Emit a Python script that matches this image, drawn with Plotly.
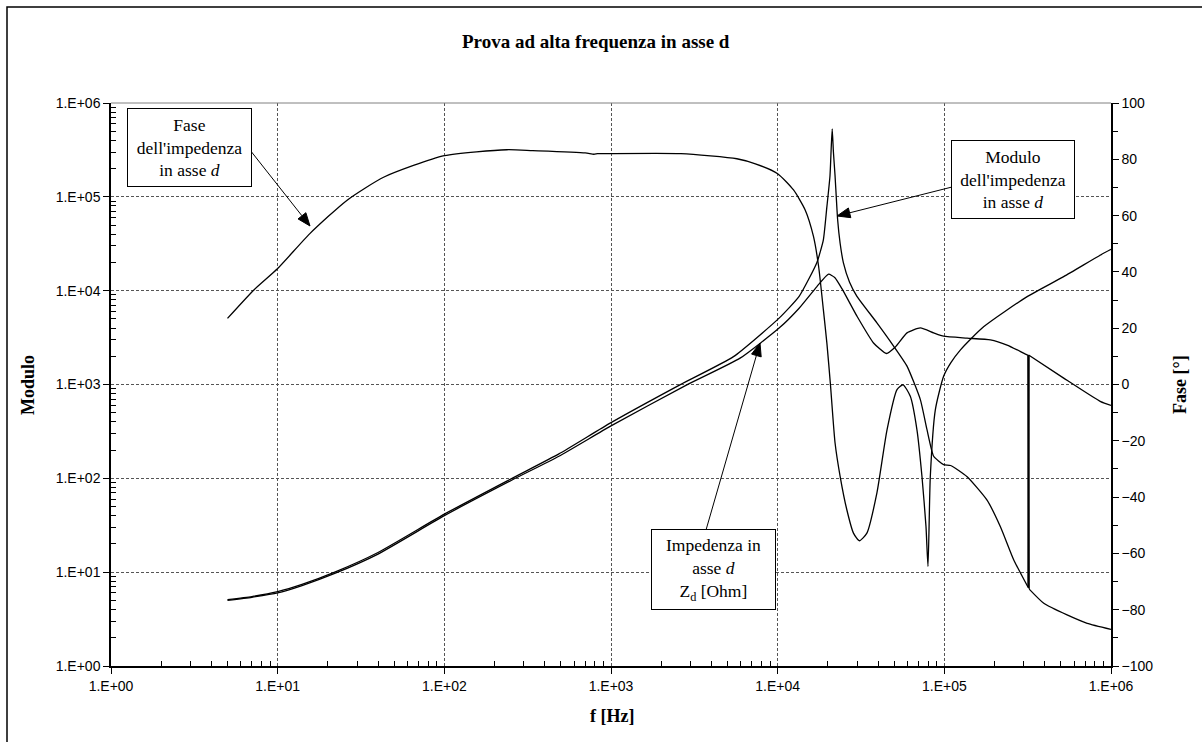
import math
import plotly.graph_objects as go

# ---------------- data ----------------
freq_mod = [5, 7, 10, 14, 22, 40, 100, 255, 487, 1000, 2590, 5430, 10200, 13450,
            17200, 18800, 19700, 20600, 20950, 21250, 21600, 22100, 22900, 23700, 24800,
            27000, 29900, 39400, 49600, 59700, 71800, 78700, 86300, 99000, 109000, 137000,
            180000, 217000, 261000, 318000, 320500, 323000, 395000, 545000, 720000,
            1000000]
modulo = [5.1, 5.5, 6.2, 7.4, 10.0, 16.2, 41.5, 100, 182, 392, 991, 1980, 5100, 8700,
          20000, 34800, 75700, 167000, 330000, 530000, 300000, 167000, 57000, 32000, 19800,
          12300, 8700, 4540, 2570, 1570, 690, 330, 172, 140, 137, 104,
          58.9, 30.5, 13.5, 6.9, 2070, 6.6, 4.66, 3.50, 2.85,
          2.46]

freq_zd = [5, 7, 10, 14, 22, 40, 100, 255, 487, 1000, 2850, 5950, 10200, 13450, 17200,
           20200, 22000, 24300, 29900, 37600, 44900, 50800, 59700, 71800, 86300, 99000,
           137000, 189000, 238000, 314000, 317000, 319500, 322000, 520000, 867000, 1000000]
zd = [5.0, 5.4, 6.0, 7.2, 9.7, 15.6, 40, 96, 172, 362, 991, 1910, 3990, 6500, 11060,
      15000, 13800, 10500, 5350, 2770, 2140, 2510, 3550, 4010, 3550, 3270,
      3120, 2990, 2630, 2070, 2060, 6.8, 2050, 1170, 657, 600]

freq_ph = [5, 7.2, 10, 15.6, 26, 43.5, 100, 237, 339, 700, 790, 830, 900, 2630, 5690,
           7350, 10000, 12450, 14600, 16400, 17600, 18800, 19750, 20700, 22100, 23700,
           26000, 28500, 30900, 34300, 39400, 45300, 52000, 56500, 62500, 68500, 73400,
           77600, 79800, 82400, 88300, 99000, 109000, 125000, 172000, 314000, 520000,
           865000, 1000000]
phase = [23.5, 33.6, 41.2, 53.6, 65.4, 73.7, 81.3, 83.4, 83.1, 82.3, 81.8, 82.0, 82.0,
         82.0, 80.2, 78.4, 74.9, 69.1, 62.1, 52.6, 42.0, 26.6, 14.5, 0.5, -20.8, -32.6,
         -44.5, -52.8, -55.5, -52.8, -38.5, -16.1, -1.8, -0.1, -4.2, -16.1, -32.6,
         -50.4, -64.6, -32.6, -9.0, 2.9, 7.6, 12.3, 20.5, 31.2, 38.3,
         46.0, 48.0]

log_ticks = [1, 10, 100, 1000, 10000, 100000, 1000000]
log_ticktext = ["1.E+00", "1.E+01", "1.E+02", "1.E+03", "1.E+04", "1.E+05", "1.E+06"]
log_minor = [m * 10 ** e for e in range(6) for m in range(2, 10)]
phase_ticks = list(range(-100, 101, 20))

title_text = "Prova ad alta frequenza in asse d"

# ---------------- layout geometry ----------------
W, H = 1202, 742
ML, MR, MT, MB = 111, 91, 103, 76
PW, PH = W - ML - MR, H - MT - MB


def px(x):
    return (x - ML) / PW


def py(y):
    return (H - MB - y) / PH


SERIF = "Times New Roman, Liberation Serif, serif"
SANS = "Arial, Liberation Sans, sans-serif"

fig = go.Figure()
smooth = dict(color="black", width=1.3, shape="spline", smoothing=0.5)
straight = dict(color="black", width=1.3)


def add_series(fx, fy, spike_idx, axis):
    # smooth curve, with the single-sample spike drawn as straight segments
    pieces = [(0, spike_idx, smooth), (spike_idx - 1, spike_idx + 2, straight),
              (spike_idx + 1, len(fx), smooth)]
    for a, b, ln in pieces:
        fig.add_trace(go.Scatter(x=fx[a:b], y=fy[a:b], mode="lines", line=ln,
                                 yaxis=axis, hoverinfo="x+y"))


add_series(freq_mod, modulo, freq_mod.index(320500), "y")
add_series(freq_zd, zd, freq_zd.index(319500), "y")
fig.add_trace(go.Scatter(x=freq_ph, y=phase, mode="lines",
                         line=dict(color="black", width=1.3, shape="spline", smoothing=0.6),
                         yaxis="y2"))

grid = dict(showgrid=True, gridcolor="#555555", gridwidth=1, griddash="3px,2px")
TF = dict(family=SANS, size=14, color="black")

fig.update_layout(
    width=W, height=H,
    margin=dict(l=ML, r=MR, t=MT, b=MB),
    paper_bgcolor="white", plot_bgcolor="white",
    showlegend=False,
    xaxis=dict(type="log", range=[0, 6], tickmode="array", tickvals=log_ticks,
               ticktext=log_ticktext, ticks="outside", ticklen=6, tickcolor="black",
               showline=True, linecolor="black", linewidth=1.5, zeroline=False,
               tickfont=TF,
               minor=dict(tickmode="array", tickvals=log_minor, ticks="inside",
                          ticklen=5, tickcolor="black", showgrid=False),
               **grid),
    yaxis=dict(type="log", range=[0, 6], tickmode="array", tickvals=log_ticks,
               ticktext=log_ticktext, ticks="outside", ticklen=6, tickcolor="black",
               showline=True, linecolor="black", linewidth=1.5, zeroline=False,
               tickfont=TF,
               minor=dict(tickmode="array", tickvals=log_minor, ticks="inside",
                          ticklen=5, tickcolor="black", showgrid=False),
               **grid),
    yaxis2=dict(overlaying="y", side="right", range=[-100, 100], tickmode="array",
                tickvals=phase_ticks, ticks="outside", ticklen=6, tickcolor="black",
                showline=True, linecolor="black", linewidth=1.5, showgrid=False,
                zeroline=False, tickfont=TF,
                minor=dict(dtick=10, ticks="outside", ticklen=5, tickcolor="black")),
)

# frame and top border of plot area
fig.add_shape(type="rect", xref="paper", yref="paper",
              x0=px(7), x1=px(1230), y0=py(770), y1=py(7),
              line=dict(color="black", width=1.5), layer="below")
fig.add_shape(type="line", xref="paper", yref="paper", x0=0, x1=1, y0=1, y1=1,
              line=dict(color="#808080", width=1))

ann = []
# title and axis titles
ann.append(dict(text="<b>" + title_text + "</b>", x=px(596), y=py(42), xref="paper",
                yref="paper", showarrow=False, xanchor="center", yanchor="middle",
                font=dict(family=SERIF, size=19, color="black")))
ann.append(dict(text="<b>Modulo</b>", x=px(28), y=py(385), xref="paper", yref="paper",
                showarrow=False, textangle=-90, xanchor="center", yanchor="middle",
                font=dict(family=SERIF, size=18, color="black")))
ann.append(dict(text="<b>Fase [°]</b>", x=px(1180), y=py(385), xref="paper", yref="paper",
                showarrow=False, textangle=-90, xanchor="center", yanchor="middle",
                font=dict(family=SERIF, size=18, color="black")))
ann.append(dict(text="<b>f [Hz]</b>", x=px(612), y=py(716), xref="paper", yref="paper",
                showarrow=False, xanchor="center", yanchor="middle",
                font=dict(family=SERIF, size=18, color="black")))

# callout boxes
boxfont = dict(family=SERIF, size=17.5, color="black")
boxes = [
    ("Fase<br>dell'impedenza<br>in asse <i>d</i>", 189.5, 147.5, 121, 75),
    ("Modulo<br>dell'impedenza<br>in asse <i>d</i>", 1013, 179.5, 120, 75),
    ("Impedenza in<br>asse <i>d</i><br>Z<sub>d</sub> [Ohm]", 713.5, 569.5, 121, 77),
]
for txt, cx, cy, w, h in boxes:
    ann.append(dict(text=txt, x=px(cx), y=py(cy), xref="paper", yref="paper",
                    showarrow=False, xanchor="center", yanchor="middle",
                    width=w, height=h, bordercolor="black", borderwidth=1,
                    bgcolor="white", font=boxfont, align="center"))
fig.update_layout(annotations=ann)

# arrows drawn as a line plus a filled triangular head: (tip x, tip y, tail x, tail y)
arrows = [(310, 226, 250, 150), (837, 216, 952, 187), (760, 343, 706, 530)]
HEAD_LEN, HEAD_HALF = 13, 5
for tx, ty, sx, sy in arrows:
    d = math.hypot(tx - sx, ty - sy)
    ux, uy = (tx - sx) / d, (ty - sy) / d
    bx, by = tx - ux * HEAD_LEN, ty - uy * HEAD_LEN
    fig.add_shape(type="line", xref="paper", yref="paper",
                  x0=px(sx), y0=py(sy), x1=px(bx), y1=py(by),
                  line=dict(color="black", width=1))
    p1 = (bx - uy * HEAD_HALF, by + ux * HEAD_HALF)
    p2 = (bx + uy * HEAD_HALF, by - ux * HEAD_HALF)
    path = "M {:.5f} {:.5f} L {:.5f} {:.5f} L {:.5f} {:.5f} Z".format(
        px(tx), py(ty), px(p1[0]), py(p1[1]), px(p2[0]), py(p2[1]))
    fig.add_shape(type="path", xref="paper", yref="paper", path=path,
                  fillcolor="black", line=dict(color="black", width=1))

fig.write_html("out.html")
